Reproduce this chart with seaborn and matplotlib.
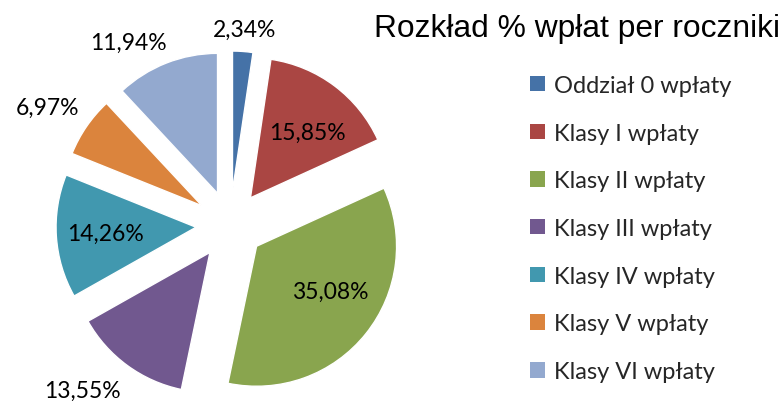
import numpy as np
import seaborn as sns
from matplotlib import pyplot as plt
from matplotlib.patches import Patch

sns.set_theme(style="white")
plt.rcParams["font.family"] = ["Lato", "DejaVu Sans"]

categories = ["Oddział 0 wpłaty", "Klasy I wpłaty", "Klasy II wpłaty", "Klasy III wpłaty",
              "Klasy IV wpłaty", "Klasy V wpłaty", "Klasy VI wpłaty"]
shares = [2.34, 15.85, 35.08, 13.55, 14.26, 6.97, 11.94]
pct_labels = ["2,34%", "15,85%", "35,08%", "13,55%", "14,26%", "6,97%", "11,94%"]
colors = sns.color_palette(["#4572A7", "#AA4643", "#89A54E", "#71588F",
                            "#4198AF", "#DB843D", "#93A9CF"])

# label placement: distance from the exploded wedge centre, and a small angle nudge (deg)
label_dist = [1.16, 0.62, 0.62, 1.34, 0.65, 1.31, 1.25]
label_turn = [0, -4, 7, -6.5, 0, 2, 9]

W, H = 784, 402
fig = plt.figure(figsize=(W / 100, H / 100), dpi=100)

# pie centre at (230, 226) px, radius 140 px
cx, cy, unit, lim = 230, 226, 140, 1.45
half = lim * unit
ax = fig.add_axes([(cx - half) / W, (H - cy - half) / H, 2 * half / W, 2 * half / H])

wedges, _ = ax.pie(shares, colors=colors, startangle=90, counterclock=False,
                   explode=[0.243] * len(shares), radius=1)
ax.set_xlim(-lim, lim)
ax.set_ylim(-lim, lim)
ax.axis("off")

for w, txt, d, t in zip(wedges, pct_labels, label_dist, label_turn):
    mid = np.deg2rad((w.theta1 + w.theta2) / 2 + t)
    x0, y0 = w.center
    ax.text(x0 + d * np.cos(mid), y0 + d * np.sin(mid), txt,
            ha="center", va="center", fontsize=16.5, color="black")

fig.text(577 / W, 1 - 37 / H, "Rozkład % wpłat per roczniki", ha="center", va="baseline",
         fontsize=22.9, family="Liberation Sans", color="black")

handles = [Patch(facecolor=c, edgecolor="none") for c in colors]
fig.legend(handles, categories, loc="center left", bbox_to_anchor=(530 / W, 1 - 229.5 / H),
           frameon=False, fontsize=17, handlelength=0.635, handleheight=0.635,
           handletextpad=0.4, labelspacing=1.13, borderpad=0, borderaxespad=0)

fig.savefig("out.png", dpi=100, facecolor="white")
